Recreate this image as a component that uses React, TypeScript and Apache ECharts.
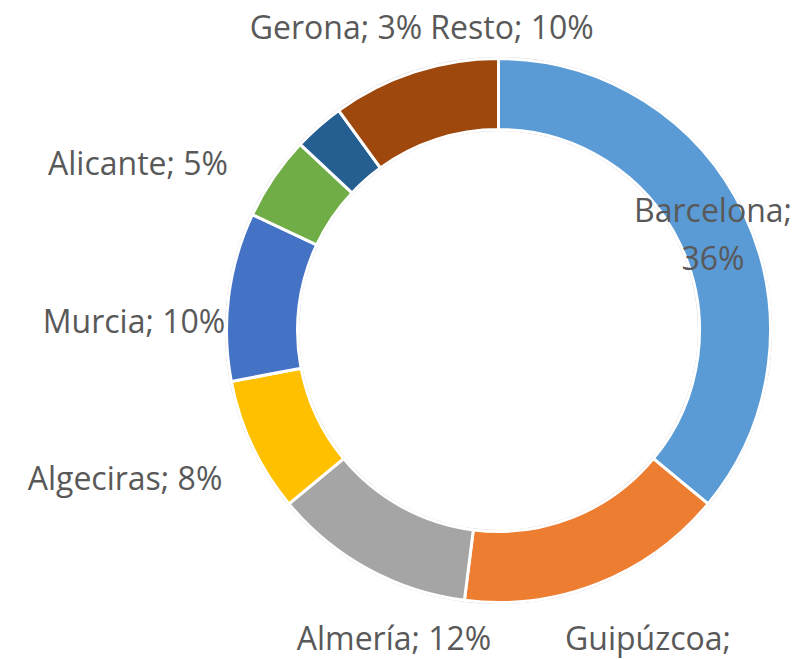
import React, { useEffect, useRef } from "react";
import * as echarts from "echarts";

const categories = ["Barcelona", "Guipúzcoa", "Almería", "Algeciras", "Murcia", "Alicante", "Gerona", "Resto"];
const values = [36, 16, 12, 8, 10, 5, 3, 10];
const colors = ["#5B9BD5", "#ED7D31", "#A5A5A5", "#FFC000", "#4472C4", "#70AD47", "#255E91", "#9E480E"];
const twoLine = [true, true, false, false, false, false, false, false];
// label centres (px)
const labelPos: [number, number][] = [
  [713, 233],
  [648, 661],
  [394, 637],
  [125, 477],
  [134, 320],
  [138, 162],
  [336, 26],
  [512, 26],
];

export default function App() {
  const ref = useRef<HTMLDivElement>(null);
  useEffect(() => {
    if (!ref.current) return;
    const chart = echarts.init(ref.current, undefined, { renderer: "svg" });
    chart.setOption({
      animation: false,
      backgroundColor: "#ffffff",
      series: [
        {
          type: "pie",
          silent: true,
          center: [498.5, 330.5],
          radius: [199.5, 273.5],
          startAngle: 90,
          label: { show: false },
          labelLine: { show: false },
          itemStyle: { color: "#c4c4c4" },
          data: [{ value: 1, name: "outline" }],
          z: 1,
        },
        {
          type: "pie",
          center: [498.5, 330.5],
          radius: [201, 272],
          startAngle: 90,
          clockwise: true,
          avoidLabelOverlap: false,
          itemStyle: { borderColor: "#ffffff", borderWidth: 3 },
          labelLine: { show: false },
          label: {
            show: true,
            position: "outside",
            color: "#595959",
            fontFamily: "Open Sans",
            fontSize: 32,
            lineHeight: 48,
          },
          labelLayout: (params: any) => {
            const p = labelPos[params.dataIndex];
            return { x: p[0], y: p[1], align: "center", verticalAlign: "middle" };
          },
          data: categories.map((c, i) => ({
            name: c,
            value: values[i],
            itemStyle: { color: colors[i] },
            label: { formatter: twoLine[i] ? "{b};\n{d}%" : "{b}; {d}%" },
          })),
          z: 2,
        },
      ],
    });
    return () => chart.dispose();
  }, []);
  return (
    <div
      ref={ref}
      style={{ position: "fixed", left: 0, top: 0, width: 805, height: 659 }}
    />
  );
}
